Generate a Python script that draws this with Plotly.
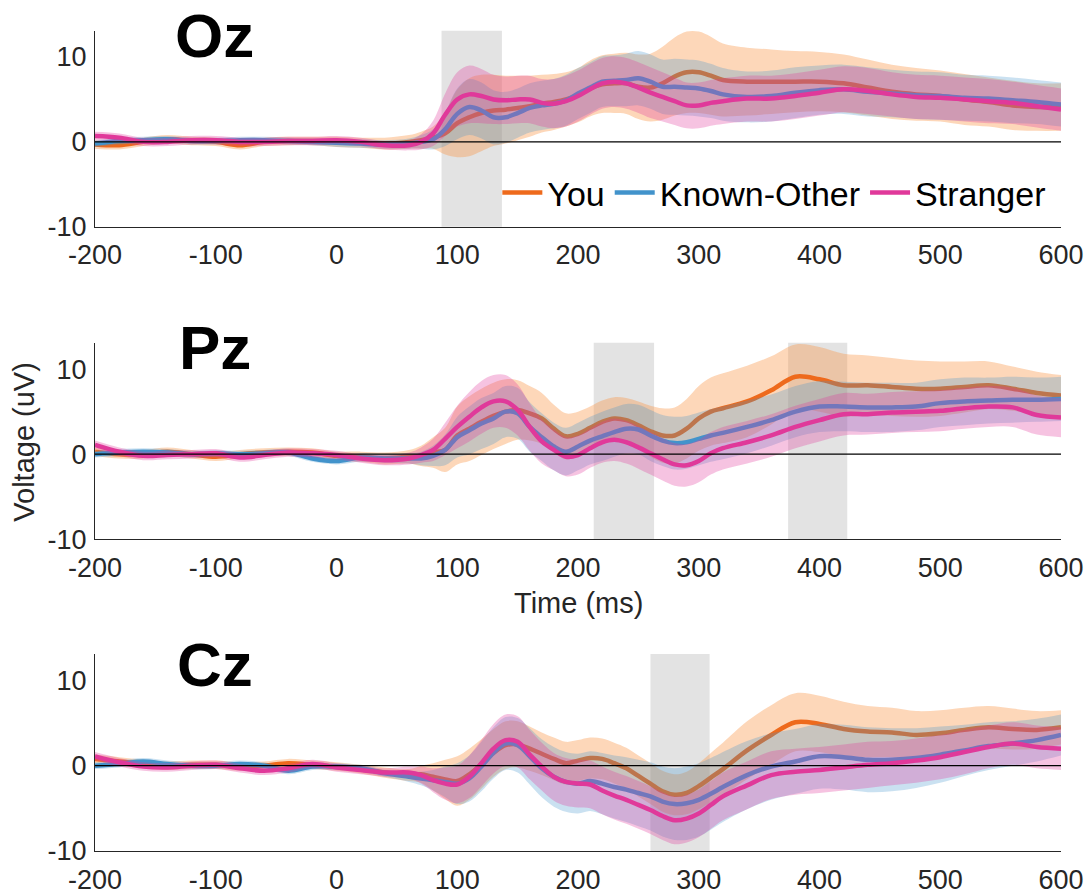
import plotly.graph_objects as go

# ---------------- data ----------------
T = [-200, -180, -160, -140, -120, -100, -80, -60, -40, -20, 0, 20, 40,
     60, 70, 80, 90, 100, 110, 120, 130, 140, 150, 160, 170, 180, 190, 200,
     210, 220, 230, 240, 250, 260, 270, 280, 290, 300, 310, 320,
     340, 360, 380, 400, 420, 440, 460, 480, 500, 520, 540, 560, 580, 600]

X_TICKS = [-200, -100, 0, 100, 200, 300, 400, 500, 600]
X_TICK_LABELS = ["-200", "-100", "0", "100", "200", "300", "400", "500", "600"]
Y_TICKS = [-10, 0, 10]
Y_TICK_LABELS = ["-10", "0", "10"]
X_RANGE = [-200, 600]
Y_RANGE = [-10, 13.1]

CONDITIONS = ["You", "Known-Other", "Stranger"]
PANELS = ["Oz", "Pz", "Cz"]

# Oz
oz_you = [-0.3, -0.4, 0.0, 0.3, 0.1, 0.0, -0.4, 0.0, 0.1, 0.1, 0.0, -0.1, -0.2,
          0.0, 0.2, 0.5, 1.0, 2.2, 2.9, 3.4, 3.7, 3.8, 4.0, 4.2, 4.5, 4.7, 5.0, 5.5,
          6.3, 6.8, 6.9, 6.9, 6.5, 6.4, 6.9, 7.7, 8.2, 8.2, 7.8, 7.3,
          7.1, 7.1, 7.1, 7.1, 6.9, 6.4, 5.9, 5.6, 5.4, 5.0, 4.7, 4.3, 4.1, 4.1]
oz_known = [-0.2, 0.1, 0.2, 0.3, 0.1, 0.1, 0.2, 0.2, 0.1, 0.0, -0.1, -0.2, -0.3,
            -0.2, 0.0, 0.3, 1.5, 3.3, 4.1, 3.7, 2.9, 2.9, 3.4, 4.0, 4.3, 4.5, 4.9, 5.7,
            6.4, 7.1, 7.2, 7.3, 7.5, 7.1, 6.5, 6.5, 6.4, 6.3, 6.0, 5.6,
            5.3, 5.4, 5.8, 6.1, 6.2, 5.9, 5.7, 5.5, 5.4, 5.2, 5.1, 4.9, 4.7, 4.4]
oz_stranger = [0.7, 0.5, 0.0, 0.0, 0.2, 0.2, 0.0, 0.0, 0.1, 0.1, 0.2, 0.0, -0.4,
               -0.4, 0.0, 1.0, 3.2, 5.0, 5.6, 5.4, 5.0, 4.9, 5.0, 5.0, 4.6, 4.5, 4.8, 5.4,
               6.2, 6.9, 7.1, 6.9, 6.4, 5.8, 5.3, 4.8, 4.3, 4.3, 4.6, 4.8,
               5.1, 5.1, 5.4, 5.8, 6.2, 6.0, 5.6, 5.3, 5.2, 5.0, 4.8, 4.6, 4.2, 3.8]
oz_you_se = [0.5, 0.5, 0.5, 0.5, 0.5, 0.5, 0.5, 0.5, 0.5, 0.5, 0.6, 0.6, 0.7,
             0.8, 1.0, 1.3, 2.5, 4.0, 4.6, 4.5, 4.2, 4.0, 3.8, 3.6, 3.4, 3.3, 3.2, 3.2,
             3.3, 3.4, 3.5, 3.6, 3.8, 4.0, 4.3, 4.6, 4.8, 4.8, 4.6, 4.3,
             4.0, 3.8, 3.6, 3.5, 3.4, 3.3, 3.2, 3.1, 3.0, 3.0, 2.9, 2.9, 2.8, 2.8]
oz_known_se = [0.4, 0.4, 0.4, 0.4, 0.4, 0.4, 0.4, 0.4, 0.4, 0.4, 0.5, 0.5, 0.5,
               0.6, 0.8, 1.2, 2.0, 3.0, 3.3, 3.3, 3.2, 3.0, 2.9, 2.9, 2.9, 2.9, 3.0, 3.0,
               3.0, 3.0, 3.0, 3.1, 3.2, 3.2, 3.2, 3.3, 3.3, 3.3, 3.2, 3.1,
               3.0, 3.0, 3.0, 2.9, 2.9, 2.9, 2.8, 2.8, 2.8, 2.7, 2.7, 2.7, 2.6, 2.6]
oz_stranger_se = [0.5, 0.5, 0.5, 0.5, 0.5, 0.5, 0.5, 0.5, 0.5, 0.5, 0.5, 0.5, 0.5,
                  0.6, 0.9, 1.5, 2.5, 3.2, 3.4, 3.2, 2.9, 2.8, 2.8, 2.8, 2.8, 2.9, 3.0, 3.0,
                  3.0, 3.0, 3.0, 3.0, 3.0, 3.0, 2.9, 2.8, 2.7, 2.7, 2.7, 2.7,
                  2.7, 2.7, 2.7, 2.7, 2.7, 2.7, 2.6, 2.6, 2.6, 2.6, 2.6, 2.5, 2.5, 2.5]

# Pz
pz_you = [0.3, 0.0, 0.0, 0.3, 0.0, -0.3, 0.0, 0.2, 0.3, 0.2, -0.2, -0.3, -0.5,
          -0.3, -0.2, 0.2, 0.5, 2.2, 3.0, 3.8, 4.5, 5.0, 5.2, 4.8, 4.2, 3.0, 2.1, 2.4,
          3.1, 3.8, 4.2, 4.0, 3.4, 2.7, 2.2, 2.2, 3.0, 4.2, 5.0, 5.4,
          6.2, 7.5, 9.1, 8.8, 8.1, 8.1, 7.9, 7.7, 7.7, 7.9, 8.1, 7.7, 7.2, 6.9]
pz_known = [0.0, 0.2, 0.3, 0.2, 0.0, 0.1, 0.0, 0.1, 0.2, -0.5, -0.8, -0.4, -0.5,
            -0.5, -0.5, -0.2, 0.5, 2.0, 2.8, 3.6, 4.2, 5.0, 4.8, 3.2, 2.0, 0.9, 0.3, 0.9,
            1.6, 2.1, 2.6, 3.0, 2.9, 2.2, 1.6, 1.3, 1.4, 1.8, 2.2, 2.5,
            3.2, 4.0, 5.0, 5.6, 5.6, 5.5, 5.5, 5.6, 6.0, 6.2, 6.3, 6.4, 6.4, 6.5]
pz_stranger = [1.1, 0.3, -0.2, -0.1, 0.0, 0.1, -0.4, -0.1, 0.2, 0.1, -0.1, -0.5, -0.7,
               -0.5, -0.1, 0.5, 1.8, 3.2, 4.4, 5.5, 6.2, 6.2, 5.2, 3.2, 1.5, 0.5, -0.3, -0.1,
               0.7, 1.4, 1.7, 1.4, 0.8, 0.1, -0.6, -1.2, -1.3, -0.8, 0.1, 0.7,
               1.4, 2.2, 3.2, 4.0, 4.7, 4.7, 4.9, 5.0, 5.1, 5.4, 5.6, 5.5, 4.6, 4.3]
pz_you_se = [0.5, 0.5, 0.5, 0.5, 0.5, 0.5, 0.5, 0.5, 0.5, 0.5, 0.5, 0.6, 0.7,
             0.8, 1.2, 1.8, 2.6, 3.4, 3.8, 3.9, 3.9, 3.8, 3.5, 3.2, 3.0, 2.8, 2.7, 2.6,
             2.5, 2.5, 2.5, 2.6, 2.8, 3.0, 3.2, 3.3, 3.5, 3.8, 4.0, 4.1,
             4.2, 4.0, 3.8, 3.8, 3.7, 3.5, 3.4, 3.3, 3.2, 3.0, 2.8, 2.6, 2.5, 2.4]
pz_known_se = [0.4, 0.4, 0.4, 0.4, 0.4, 0.4, 0.4, 0.4, 0.4, 0.4, 0.4, 0.5, 0.5,
               0.6, 0.8, 1.2, 1.8, 2.4, 2.8, 3.0, 3.0, 3.0, 3.0, 2.9, 2.8, 2.8, 2.8, 2.8,
               2.8, 2.9, 2.9, 2.9, 2.9, 3.0, 3.0, 3.1, 3.1, 3.1, 3.1, 3.1,
               3.1, 3.0, 3.0, 3.0, 2.9, 2.9, 2.9, 2.8, 2.8, 2.8, 2.7, 2.7, 2.6, 2.6]
pz_stranger_se = [0.5, 0.5, 0.5, 0.5, 0.5, 0.5, 0.5, 0.5, 0.5, 0.5, 0.5, 0.5, 0.6,
                  0.7, 0.9, 1.3, 1.9, 2.5, 2.9, 3.1, 3.1, 3.1, 3.0, 2.8, 2.6, 2.4, 2.3, 2.3,
                  2.3, 2.4, 2.5, 2.5, 2.5, 2.5, 2.5, 2.5, 2.5, 2.5, 2.5, 2.5,
                  2.5, 2.5, 2.5, 2.5, 2.5, 2.4, 2.4, 2.4, 2.4, 2.4, 2.4, 2.3, 2.3, 2.3]

# Cz
cz_you = [0.8, 0.5, 0.2, 0.0, 0.1, 0.1, -0.1, 0.0, 0.3, 0.1, -0.1, -0.4, -0.8,
          -1.1, -1.0, -1.3, -1.6, -1.8, -1.0, 0.2, 1.5, 2.4, 2.5, 2.0, 1.4, 0.8, 0.3, 0.6,
          0.9, 0.8, 0.3, -0.3, -1.2, -2.1, -3.0, -3.4, -3.2, -2.4, -1.4, -0.4,
          1.8, 3.6, 5.1, 4.9, 4.3, 4.0, 3.9, 3.6, 3.8, 4.2, 4.5, 4.3, 4.2, 4.5]
cz_known = [0.0, 0.2, 0.5, 0.2, 0.0, 0.0, 0.2, 0.0, -0.6, -0.1, -0.1, -0.3, -0.9,
            -1.3, -1.5, -1.7, -1.9, -2.1, -1.5, -0.1, 1.5, 2.6, 2.4, 1.1, -0.3, -1.3, -1.9, -2.1,
            -1.8, -2.1, -2.5, -2.8, -3.2, -3.6, -4.2, -4.5, -4.4, -4.0, -3.3, -2.5,
            -1.1, -0.1, 0.5, 1.1, 1.0, 0.7, 0.7, 0.9, 1.3, 1.8, 2.3, 2.6, 3.0, 3.6]
cz_stranger = [1.1, 0.4, -0.1, -0.2, 0.0, 0.1, -0.3, -0.6, -0.3, 0.2, -0.2, -0.5, -0.8,
               -0.8, -1.1, -1.7, -2.1, -2.2, -1.3, 0.3, 2.0, 3.0, 2.8, 1.3, -0.1, -1.3, -1.9, -2.1,
               -2.2, -2.9, -3.5, -4.0, -4.6, -5.2, -5.9, -6.4, -6.2, -5.6, -4.6, -3.6,
               -2.3, -1.1, -0.7, -0.5, -0.2, 0.1, 0.3, 0.6, 1.0, 1.6, 2.2, 2.6, 2.2, 2.0]
cz_you_se = [0.5, 0.5, 0.5, 0.5, 0.5, 0.5, 0.5, 0.5, 0.5, 0.5, 0.5, 0.5, 0.6,
             0.7, 1.0, 1.6, 2.3, 2.9, 3.0, 2.9, 2.8, 2.8, 2.7, 2.6, 2.5, 2.5, 2.5, 2.4,
             2.4, 2.4, 2.4, 2.4, 2.4, 2.4, 2.4, 2.4, 2.5, 2.7, 2.9, 3.1,
             3.4, 3.5, 3.4, 3.3, 3.2, 3.0, 2.9, 2.8, 2.7, 2.6, 2.5, 2.4, 2.2, 2.0]
cz_known_se = [0.4, 0.4, 0.4, 0.4, 0.4, 0.4, 0.4, 0.4, 0.4, 0.4, 0.4, 0.4, 0.4,
               0.6, 0.8, 1.2, 1.8, 2.4, 2.7, 2.9, 3.0, 3.1, 3.2, 3.3, 3.4, 3.5, 3.5, 3.5,
               3.5, 3.6, 3.7, 3.8, 3.9, 4.0, 4.1, 4.2, 4.3, 4.3, 4.2, 4.1,
               4.0, 3.9, 3.8, 3.8, 3.8, 3.8, 3.7, 3.5, 3.3, 3.0, 2.8, 2.6, 2.5, 2.4]
cz_stranger_se = [0.5, 0.5, 0.5, 0.5, 0.5, 0.5, 0.5, 0.5, 0.5, 0.5, 0.5, 0.5, 0.5,
                  0.7, 1.0, 1.4, 1.9, 2.2, 2.5, 2.7, 2.9, 3.0, 3.0, 2.9, 2.8, 2.8, 2.8, 2.8,
                  2.8, 2.8, 2.8, 2.8, 2.8, 2.8, 2.8, 2.8, 2.8, 2.8, 2.8, 2.8,
                  2.8, 2.8, 2.7, 2.7, 2.7, 2.7, 2.6, 2.6, 2.6, 2.6, 2.5, 2.5, 2.5, 2.5]

# significant time windows (ms)
oz_windows = [(87, 137)]
pz_windows = [(213, 263), (374, 423)]
cz_windows = [(260, 309)]

# ---------------- styles ----------------
LINE_COLORS = {"You": "#EE6A1C", "Known-Other": "#4293CB", "Stranger": "#E0399A"}
BAND_COLORS = {"You": "rgba(250,150,70,0.38)",
               "Known-Other": "rgba(66,147,203,0.28)",
               "Stranger": "rgba(224,57,154,0.30)"}
FONT = "Liberation Sans, Arial, Helvetica, sans-serif"
AXIS_GREY = "#262626"

panel_data = {
    "Oz": ([oz_you, oz_known, oz_stranger], [oz_you_se, oz_known_se, oz_stranger_se], oz_windows),
    "Pz": ([pz_you, pz_known, pz_stranger], [pz_you_se, pz_known_se, pz_stranger_se], pz_windows),
    "Cz": ([cz_you, cz_known, cz_stranger], [cz_you_se, cz_known_se, cz_stranger_se], cz_windows),
}
domains = {"Oz": [0.7604, 0.9991], "Pz": [0.3797, 0.6191], "Cz": [0.0, 0.2400]}
title_y = {"Oz": 0.993, "Pz": 0.613, "Cz": 0.227}

fig = go.Figure()
shapes = []
annotations = []

for i, panel in enumerate(PANELS):
    n = "" if i == 0 else str(i + 1)
    xa, ya = "x" + n, "y" + n
    means, ses, windows = panel_data[panel]
    for cond, m, s in zip(CONDITIONS, means, ses):
        lo = [a - b for a, b in zip(m, s)]
        hi = [a + b for a, b in zip(m, s)]
        fig.add_trace(go.Scatter(x=T, y=lo, xaxis=xa, yaxis=ya, mode="lines",
                                 line=dict(width=0, shape="spline", color=BAND_COLORS[cond]),
                                 showlegend=False, hoverinfo="skip"))
        fig.add_trace(go.Scatter(x=T, y=hi, xaxis=xa, yaxis=ya, mode="lines",
                                 line=dict(width=0, shape="spline", color=BAND_COLORS[cond]),
                                 fill="tonexty", fillcolor=BAND_COLORS[cond],
                                 showlegend=False, hoverinfo="skip"))
        fig.add_trace(go.Scatter(x=T, y=m, xaxis=xa, yaxis=ya, mode="lines", name=cond,
                                 line=dict(width=4.5, shape="spline", color=LINE_COLORS[cond]),
                                 showlegend=(i == 0), legendgroup=cond))
    # zero line on top
    fig.add_trace(go.Scatter(x=X_RANGE, y=[0, 0], xaxis=xa, yaxis=ya, mode="lines",
                             line=dict(width=1.3, color="#000000"),
                             showlegend=False, hoverinfo="skip"))
    for (w0, w1) in windows:
        shapes.append(dict(type="rect", xref=xa, yref=ya + " domain", x0=w0, x1=w1, y0=0, y1=1,
                           fillcolor="#E3E3E3", line=dict(width=0), layer="below"))
    annotations.append(dict(text="<b>" + panel + "</b>", xref="paper", yref="paper",
                            x=0.1242, y=title_y[panel], xanchor="center", yanchor="middle",
                            showarrow=False, font=dict(family=FONT, size=62, color="#000000")))

    axis_common = dict(showline=True, linecolor=AXIS_GREY, linewidth=1.3, mirror=False,
                       ticks="", showgrid=False, zeroline=False, automargin=False,
                       tickfont=dict(family=FONT, size=27, color=AXIS_GREY))
    fig.update_layout(**{
        ("xaxis" + n): dict(axis_common, range=X_RANGE, tickvals=X_TICKS, ticktext=X_TICK_LABELS,
                            anchor=ya, domain=[0, 1], ticklabelstandoff=4),
        ("yaxis" + n): dict(axis_common, range=Y_RANGE, tickvals=Y_TICKS, ticktext=Y_TICK_LABELS,
                            anchor=xa, domain=domains[panel], ticklabelstandoff=2),
    })

annotations.append(dict(text="Time (ms)", xref="paper", yref="paper", x=0.5, y=0.302,
                        xanchor="center", yanchor="middle", showarrow=False,
                        font=dict(family=FONT, size=29, color=AXIS_GREY)))
annotations.append(dict(text="Voltage (uV)", xref="paper", yref="paper", x=-0.0735, y=0.4985,
                        xanchor="center", yanchor="middle", showarrow=False, textangle=-90,
                        font=dict(family=FONT, size=29, color=AXIS_GREY)))

fig.update_layout(
    width=1090, height=894,
    margin=dict(l=95, r=29, t=30, b=43, autoexpand=False),
    paper_bgcolor="white", plot_bgcolor="white",
    shapes=shapes, annotations=annotations,
    showlegend=True,
    legend=dict(orientation="h", x=0.99, y=0.8015, xanchor="right", yanchor="middle",
                bgcolor="rgba(0,0,0,0)", font=dict(family=FONT, size=34, color="#000000"),
                itemwidth=40, tracegroupgap=0),
)

fig.write_html("out.html")
